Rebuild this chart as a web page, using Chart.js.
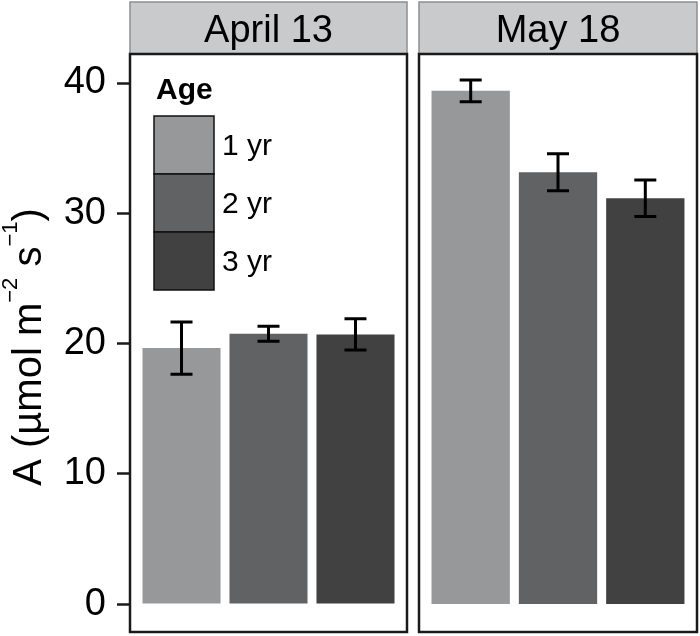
<!DOCTYPE html>
<html>
<head>
<meta charset="utf-8">
<script src="https://cdn.jsdelivr.net/npm/chart.js@4/dist/chart.umd.min.js"></script>
<style>
  html, body { margin: 0; padding: 0; background: #ffffff; }
  #wrap { position: relative; width: 700px; height: 636px; overflow: hidden; }
  #left { position: absolute; left: 0; top: 0; }
  #right { position: absolute; left: 415px; top: 0; }
</style>
</head>
<body>
<div id="wrap">
  <canvas id="left" width="410" height="636"></canvas>
  <canvas id="right" width="285" height="636"></canvas>
</div>
<script>
// ---- data ----
const dates = ['April 13', 'May 18'];
const ages = ['1 yr', '2 yr', '3 yr'];
const aprilMean = [19.65, 20.75, 20.7];
const aprilErr = [2.0, 0.58, 1.2];
const mayMean = [39.4, 33.15, 31.15];
const mayErr = [0.83, 1.42, 1.4];
const yTicks = [0, 10, 20, 30, 40];
const legendTitle = 'Age';
const yTitleParts = [
  { t: 'A (\u00B5mol m', sup: false },
  { t: '\u22122', sup: true },
  { t: ' s', sup: false },
  { t: '\u22121', sup: true },
  { t: ')', sup: false }
];

// ---- styles ----
const ageColors = ['#97989a', '#616264', '#414141'];
const FONT = "'Liberation Sans', Arial, Helvetica, sans-serif";
const Y_MIN = -2.07, Y_MAX = 42.15;

const panelPlugin = {
  id: 'panel',
  afterDraw(chart, args, opts) {
    const { ctx, chartArea: a } = chart;
    ctx.save();
    // strip
    ctx.fillStyle = '#c9cacc';
    ctx.fillRect(a.left - 1, 2, a.right - a.left + 2, 52);
    ctx.strokeStyle = '#8e8e8e';
    ctx.lineWidth = 1.5;
    ctx.strokeRect(a.left - 1, 2, a.right - a.left + 2, 52);
    ctx.fillStyle = '#000';
    ctx.font = '38px ' + FONT;
    ctx.textAlign = 'center';
    ctx.textBaseline = 'alphabetic';
    ctx.fillText(opts.label, (a.left + a.right) / 2, 42);
    // panel border
    ctx.strokeStyle = '#1a1a1a';
    ctx.lineWidth = 2.5;
    ctx.strokeRect(a.left - 1, a.top - 1, a.right - a.left + 2, a.bottom - a.top + 2);
    ctx.restore();
  }
};

const errPlugin = {
  id: 'errbars',
  afterDatasetsDraw(chart, args, opts) {
    const { ctx } = chart;
    const ys = chart.scales.y;
    ctx.save();
    ctx.strokeStyle = '#000';
    ctx.lineWidth = 3;
    chart.data.datasets.forEach((ds, i) => {
      const el = chart.getDatasetMeta(i).data[0];
      const m = ds.data[0], e = opts.err[i];
      const yt = ys.getPixelForValue(m + e), yb = ys.getPixelForValue(m - e);
      const x = el.x, hw = 11;
      ctx.beginPath();
      ctx.moveTo(x, yt); ctx.lineTo(x, yb);
      ctx.moveTo(x - hw, yt); ctx.lineTo(x + hw, yt);
      ctx.moveTo(x - hw, yb); ctx.lineTo(x + hw, yb);
      ctx.stroke();
    });
    ctx.restore();
  }
};

const legendPlugin = {
  id: 'ageLegend',
  afterDraw(chart, args, opts) {
    if (!opts.show) return;
    const { ctx } = chart;
    ctx.save();
    ctx.fillStyle = '#000';
    ctx.font = 'bold 30px ' + FONT;
    ctx.textAlign = 'left';
    ctx.textBaseline = 'alphabetic';
    ctx.fillText(legendTitle, 156, 99);
    const x0 = 154, w = 60, h = 58, y0 = 116;
    chart.data.datasets.forEach((ds, i) => {
      const y = y0 + i * h;
      ctx.fillStyle = ds.backgroundColor;
      ctx.fillRect(x0, y, w, h);
      ctx.strokeStyle = '#111';
      ctx.lineWidth = 1.5;
      ctx.strokeRect(x0, y, w, h);
      ctx.fillStyle = '#000';
      ctx.font = '30px ' + FONT;
      ctx.textBaseline = 'middle';
      ctx.fillText(ds.label, 222, y + h / 2 + 2);
    });
    ctx.restore();
  }
};

const yTitlePlugin = {
  id: 'yTitle',
  afterDraw(chart, args, opts) {
    if (!opts.show) return;
    const { ctx, chartArea: a } = chart;
    const mainF = '40px ' + FONT, supF = '22px ' + FONT;
    ctx.save();
    let total = 0;
    yTitleParts.forEach(p => { ctx.font = p.sup ? supF : mainF; total += ctx.measureText(p.t).width; });
    ctx.translate(41, (a.top + a.bottom) / 2 + 4);
    ctx.rotate(-Math.PI / 2);
    ctx.fillStyle = '#000';
    ctx.textAlign = 'left';
    ctx.textBaseline = 'alphabetic';
    let x = -total / 2;
    yTitleParts.forEach(p => {
      ctx.font = p.sup ? supF : mainF;
      ctx.fillText(p.t, x, p.sup ? -24 : 0);
      x += ctx.measureText(p.t).width;
    });
    ctx.restore();
  }
};

function makeChart(id, dateLabel, means, errs, isLeft) {
  return new Chart(document.getElementById(id), {
    type: 'bar',
    data: {
      labels: [dateLabel],
      datasets: ages.map((a, i) => ({
        label: a,
        data: [means[i]],
        backgroundColor: ageColors[i],
        borderWidth: 0,
        categoryPercentage: 0.949,
        barPercentage: 0.897
      }))
    },
    options: {
      responsive: false,
      animation: false,
      layout: { padding: { top: 55, bottom: 5, right: 4, left: isLeft ? 0 : 5 } },
      plugins: {
        legend: { display: false },
        tooltip: { enabled: false },
        panel: { label: dateLabel },
        errbars: { err: errs },
        ageLegend: { show: isLeft },
        yTitle: { show: isLeft }
      },
      scales: {
        x: { display: false },
        y: {
          display: isLeft,
          min: Y_MIN,
          max: Y_MAX,
          afterFit(s) {
            if (isLeft) s.width = 131; else s.width = 0;
            s.paddingTop = 0; s.paddingBottom = 0;
          },
          afterBuildTicks(s) { s.ticks = yTicks.map(v => ({ value: v })); },
          ticks: { font: { size: 38, family: FONT }, color: '#000', padding: 11 },
          grid: { drawOnChartArea: false, drawTicks: true, tickLength: 14, tickWidth: 2.5, tickColor: '#1a1a1a' },
          border: { display: false }
        }
      }
    },
    plugins: [panelPlugin, errPlugin, legendPlugin, yTitlePlugin]
  });
}

makeChart('left', dates[0], aprilMean, aprilErr, true);
makeChart('right', dates[1], mayMean, mayErr, false);
</script>
</body>
</html>
